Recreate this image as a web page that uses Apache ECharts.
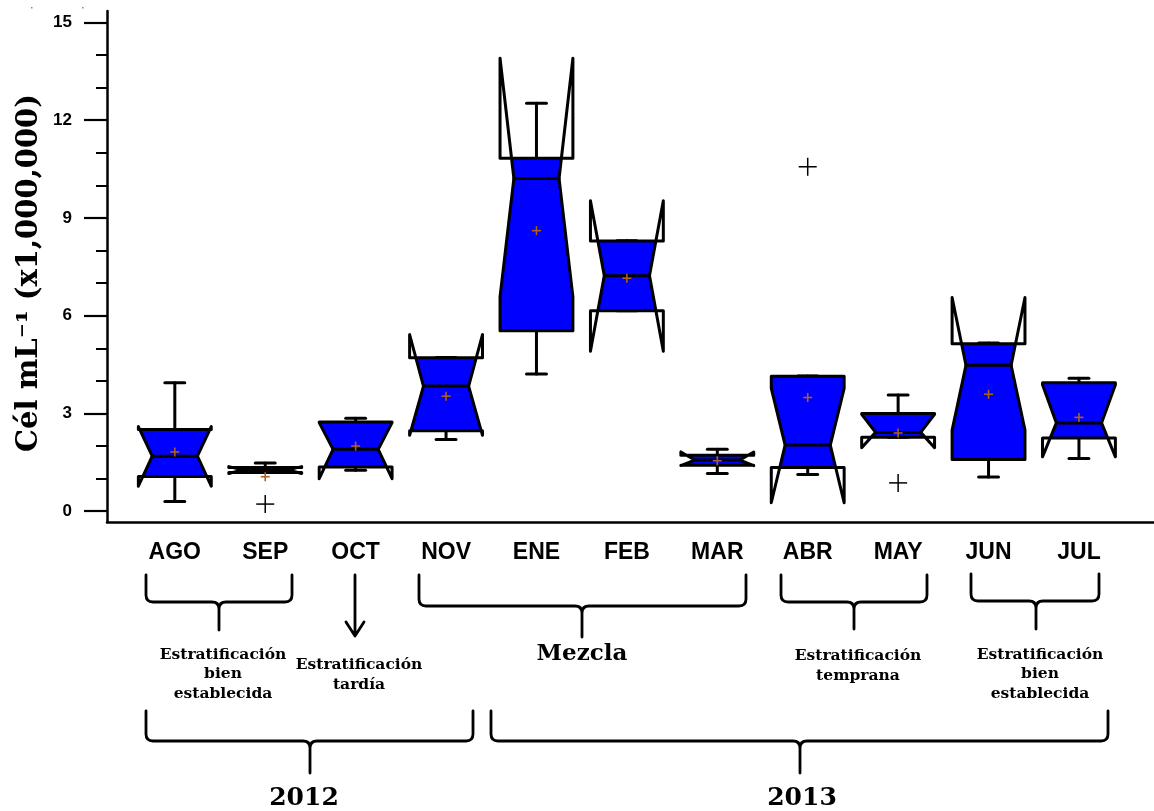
<!DOCTYPE html>
<html>
<head>
<meta charset="utf-8">
<title>Cél mL-1 por mes</title>
<script src="https://cdn.jsdelivr.net/npm/echarts@6.0.0/dist/echarts.min.js"></script>
<style>
  html, body { margin: 0; padding: 0; background: #fff; }
  #chart { width: 1154px; height: 811px; }
</style>
</head>
<body>
<div id="chart"></div>
<script>
// Monthly cell counts (x1,000,000 cel/mL), notched box plots
const months = ['AGO', 'SEP', 'OCT', 'NOV', 'ENE', 'FEB', 'MAR', 'ABR', 'MAY', 'JUN', 'JUL'];
const whiskerLow  = [0.30, 1.19, 1.26, 2.20, 4.21, 6.15, 1.16, 1.13, 2.27, 1.05, 1.62];
const q1          = [1.07, 1.19, 1.36, 2.47, 5.54, 6.15, 1.41, 1.34, 2.27, 1.59, 2.25];
const notchLow    = [0.77, 1.16, 1.00, 2.33, 6.58, 4.91, 1.40, 0.26, 1.95, 2.49, 1.67];
const median      = [1.69, 1.27, 1.90, 3.84, 10.21, 7.23, 1.57, 2.03, 2.42, 4.48, 2.71];
const notchHigh   = [2.60, 1.37, 2.72, 5.42, 13.90, 9.53, 1.82, 3.77, 2.97, 6.56, 3.88];
const q3          = [2.51, 1.34, 2.74, 4.71, 10.83, 8.29, 1.72, 4.14, 3.00, 5.14, 3.94];
const whiskerHigh = [3.94, 1.48, 2.85, 4.72, 12.52, 8.30, 1.90, 4.15, 3.57, 5.16, 4.08];
const means       = [1.82, 1.06, 2.00, 3.53, 8.61, 7.15, 1.55, 3.49, 2.40, 3.59, 2.88];
// outliers as [month position (1-based), value]
const outliers = [[2, 0.22], [8, 10.57], [9, 0.87]];

const yMajorTicks = [0, 3, 6, 9, 12, 15];
const yMinorTicks = [1, 2, 4, 5, 7, 8, 10, 11, 13, 14];

const BOX_WIDTH = 0.806;   // in category units
const NOTCH_RATIO = 0.62;  // notch waist relative to box half-width
const CAP_WIDTH = 0.22;
const LINE_W = 3;

const boxData = months.map((m, i) => [i + 1, whiskerLow[i], q1[i], notchLow[i], median[i], notchHigh[i], q3[i], whiskerHigh[i]]);
const meanData = means.map((v, i) => [i + 1, v]);

function halfWidthAt(v, nl, med, nh, hw, nw) {
  if (v >= nl && v <= med && med > nl) return hw - (hw - nw) * (v - nl) / (med - nl);
  if (v >= med && v <= nh && nh > med) return nw + (hw - nw) * (v - med) / (nh - med);
  return hw;
}

function renderBox(params, api) {
  const x = api.value(0);
  const wl = api.value(1), lq = api.value(2), nl = api.value(3), med = api.value(4),
        nh = api.value(5), uq = api.value(6), wh = api.value(7);
  const cx = api.coord([x, med])[0];
  const yp = v => api.coord([x, v])[1];
  const hw = api.size([BOX_WIDTH, 0])[0] / 2;
  const nw = hw * NOTCH_RATIO;
  const cap = api.size([CAP_WIDTH, 0])[0] / 2;
  const black = { stroke: '#000', lineWidth: LINE_W, fill: null, lineCap: 'round' };

  // fill: notched outline clipped to the interquartile range
  const vals = [lq, uq, nl, med, nh].filter(v => v >= lq && v <= uq)
    .sort((a, b) => a - b).filter((v, k, arr) => k === 0 || v !== arr[k - 1]);
  const fillPts = [];
  vals.forEach(v => fillPts.push([cx - halfWidthAt(v, nl, med, nh, hw, nw), yp(v)]));
  vals.slice().reverse().forEach(v => fillPts.push([cx + halfWidthAt(v, nl, med, nh, hw, nw), yp(v)]));

  const L = cx - hw, R = cx + hw, iL = cx - nw, iR = cx + nw;
  const outline = [
    [L, yp(lq)], [L, yp(nl)], [iL, yp(med)], [L, yp(nh)], [L, yp(uq)],
    [R, yp(uq)], [R, yp(nh)], [iR, yp(med)], [R, yp(nl)], [R, yp(lq)]
  ];

  return {
    type: 'group',
    children: [
      { type: 'line', shape: { x1: cx, y1: yp(uq), x2: cx, y2: yp(wh) }, style: black },
      { type: 'line', shape: { x1: cx - cap, y1: yp(wh), x2: cx + cap, y2: yp(wh) }, style: black },
      { type: 'line', shape: { x1: cx, y1: yp(lq), x2: cx, y2: yp(wl) }, style: black },
      { type: 'line', shape: { x1: cx - cap, y1: yp(wl), x2: cx + cap, y2: yp(wl) }, style: black },
      { type: 'polygon', shape: { points: fillPts }, style: { fill: '#0000ff', stroke: null } },
      { type: 'polygon', shape: { points: outline }, style: { fill: null, stroke: '#000', lineWidth: LINE_W, lineJoin: 'round' } },
      { type: 'line', shape: { x1: iL, y1: yp(med), x2: iR, y2: yp(med) }, style: black }
    ]
  };
}

function crossRenderer(size, color, width) {
  return function (params, api) {
    const p = api.coord([api.value(0), api.value(1)]);
    const s = size / 2;
    const st = { stroke: color, lineWidth: width, fill: null };
    return {
      type: 'group',
      children: [
        { type: 'line', shape: { x1: p[0] - s, y1: p[1], x2: p[0] + s, y2: p[1] }, style: st },
        { type: 'line', shape: { x1: p[0], y1: p[1] - s, x2: p[0], y2: p[1] + s }, style: st }
      ]
    };
  };
}

// curly bracket: ends at x1/x2 starting at top, horizontal bar at h, tip at xt down to bottom
function brace(x1, x2, xt, top, h, bottom) {
  const r = 7;
  return `M${x1},${top} L${x1},${h - r} Q${x1},${h} ${x1 + r},${h} L${xt - r},${h} Q${xt},${h} ${xt},${h + r} L${xt},${bottom}` +
         ` M${xt},${h + r} Q${xt},${h} ${xt + r},${h} L${x2 - r},${h} Q${x2},${h} ${x2},${h - r} L${x2},${top}`;
}
const braceStyle = { stroke: '#000', lineWidth: 2.8, fill: null, lineCap: 'round', lineJoin: 'round' };
const bracePaths = [
  brace(146, 292, 219, 575, 602, 630),
  'M355,575 L355,636 M346,622 L355,636 L364,622',
  brace(419, 746, 582, 575, 606, 637),
  brace(781, 927, 854, 575, 602, 629),
  brace(971, 1099, 1036, 574, 601, 629),
  brace(146, 473, 310, 711, 741, 773),
  brace(491, 1108, 800, 711, 741, 773)
];

function renderBraces() {
  return {
    type: 'group',
    children: bracePaths.map(d => ({ type: 'path', shape: { pathData: d }, style: braceStyle }))
  };
}

const serif = '"DejaVu Serif", "Liberation Serif", serif';

function note(x, y, text, size) {
  return {
    type: 'text', x: x, y: y,
    style: { text: text, font: `bold ${size}px ${serif}`, fill: '#000', align: 'center', verticalAlign: 'middle', lineHeight: 19.5 }
  };
}

const graphics = [
  note(223, 674, 'Estratificación\nbien\nestablecida', 15.5),
  note(359, 675, 'Estratificación\ntardía', 15.5),
  note(582, 654, 'Mezcla', 23),
  note(858, 666, 'Estratificación\ntemprana', 15.5),
  note(1040, 674, 'Estratificación\nbien\nestablecida', 15.5),
  note(304, 798, '2012', 25),
  note(802, 798, '2013', 25),
  {
    type: 'text', x: 29, y: 273, rotation: Math.PI / 2,
    style: { text: 'Cél mL⁻¹ (x1,000,000)', font: `bold 29px ${serif}`, fill: '#000', align: 'center', verticalAlign: 'middle' }
  },
  { type: 'rect', shape: { x: 31, y: 7, width: 1.5, height: 1.5 }, style: { fill: '#888' } },
  { type: 'rect', shape: { x: 82, y: 7, width: 1.5, height: 1.5 }, style: { fill: '#888' } }
];

const Y_MIN = -0.33, Y_MAX = 15.35;

const chart = echarts.init(document.getElementById('chart'), null, { renderer: 'canvas' });
chart.setOption({
  animation: false,
  backgroundColor: '#fff',
  grid: { left: 107, right: 0, top: 11, bottom: 289 },
  xAxis: {
    type: 'value', min: 0.25, max: 11.83,
    axisLine: { show: true, onZero: false, lineStyle: { color: '#000', width: 2.5 } },
    axisTick: { show: false },
    splitLine: { show: false },
    axisLabel: {
      customValues: months.map((m, i) => i + 1),
      formatter: v => months[Math.round(v) - 1] || '',
      color: '#000', fontWeight: 'bold', fontSize: 23,
      fontFamily: '"Liberation Sans", Arial, sans-serif', margin: 19
    }
  },
  yAxis: [
    {
      type: 'value', min: Y_MIN, max: Y_MAX,
      axisLine: { show: true, lineStyle: { color: '#000', width: 2.5 } },
      axisTick: { show: true, length: 23, customValues: yMajorTicks, lineStyle: { color: '#000', width: 2.2 } },
      axisLabel: {
        customValues: yMajorTicks, color: '#000', fontWeight: 'bold', fontSize: 17,
        fontFamily: '"Liberation Sans", Arial, sans-serif', margin: 35
      },
      splitLine: { show: false }
    },
    {
      type: 'value', min: Y_MIN, max: Y_MAX, position: 'left',
      axisLine: { show: false },
      axisTick: { show: true, length: 11, customValues: yMinorTicks, lineStyle: { color: '#000', width: 2 } },
      axisLabel: { show: false },
      splitLine: { show: false }
    }
  ],
  series: [
    { type: 'custom', renderItem: renderBox, data: boxData, encode: { x: 0, y: [1, 2, 3, 4, 5, 6, 7] }, z: 2, clip: false },
    { type: 'custom', renderItem: crossRenderer(9, '#b0601e', 1.6), data: meanData, encode: { x: 0, y: 1 }, z: 3, clip: false },
    { type: 'custom', renderItem: crossRenderer(18, '#000', 1.5), data: outliers, encode: { x: 0, y: 1 }, z: 3, clip: false },
    { type: 'custom', renderItem: renderBraces, data: [[1, 0]], encode: { x: 0, y: 1 }, silent: true, z: 1, clip: false }
  ],
  graphic: { elements: graphics }
});
</script>
</body>
</html>
